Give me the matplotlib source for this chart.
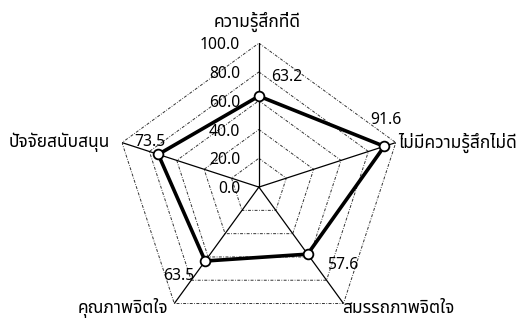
import numpy as np
import matplotlib.pyplot as plt

categories = ["ความรู้สึกที่ดี", "ไม่มีความรู้สึกไม่ดี", "สมรรถภาพจิตใจ", "คุณภาพจิตใจ", "ปัจจัยสนับสนุน"]
values = [63.2, 91.6, 57.6, 63.5, 73.5]
ring_values = [0, 20, 40, 60, 80, 100]
ring_labels = ["0.0", "20.0", "40.0", "60.0", "80.0", "100.0"]

plt.rcParams["font.family"] = ["Tahoma", "Noto Sans Thai", "Loma", "Garuda", "Norasi",
                               "Waree", "Sarabun", "DejaVu Sans"]
plt.rcParams["font.size"] = 11.3

# label placement (offset points)
value_offsets = [(20, 14), (1, 19), (25, -8), (-19, -11), (-6, 9)]
cat_offsets = [(-1.5, 15), (1.5, 0), (-0.7, -3.5), (-4.3, -3.5), (-8.6, 0)]
cat_ha = ["center", "left", "left", "right", "right"]

n = len(categories)
angles = np.linspace(0, 2 * np.pi, n, endpoint=False)
closed_angles = np.append(angles, angles[0])

fig = plt.figure(figsize=(5.27, 3.22), dpi=100)
ax = fig.add_axes([0.218, -0.028, 0.5465, 0.894], projection="polar")
ax.set_theta_offset(np.pi / 2)
ax.set_theta_direction(-1)
ax.set_ylim(0, 100)
ax.set_axis_off()

# polygon grid
for r in ring_values[1:]:
    ax.plot(closed_angles, [r] * (n + 1), color="#333333", lw=0.7,
            ls=(0, (3, 1.5, 0.8, 1.5)), zorder=1)

# spokes
for a in angles:
    ax.plot([a, a], [0, 100], color="black", lw=0.9, zorder=2)

# data
closed_vals = values + values[:1]
ax.plot(closed_angles, closed_vals, color="black", lw=2.6, zorder=4)
ax.plot(angles, values, ls="none", marker="o", ms=7, mfc="white",
        mec="black", mew=1.3, zorder=5)

for r, lab in zip(ring_values, ring_labels):
    ax.annotate(lab, xy=(0, r), xytext=(-13.5, -1.5), textcoords="offset points",
                ha="right", va="center", zorder=6)

for a, v, off in zip(angles, values, value_offsets):
    ax.annotate(f"{v:.1f}", xy=(a, v), xytext=off, textcoords="offset points",
                ha="center", va="center", zorder=6)

for a, cat, off, ha in zip(angles, categories, cat_offsets, cat_ha):
    ax.annotate(cat, xy=(a, 100), xytext=off, textcoords="offset points",
                ha=ha, va="center", fontsize=12.5, zorder=6, annotation_clip=False)

fig.savefig("out.png", dpi=100)
